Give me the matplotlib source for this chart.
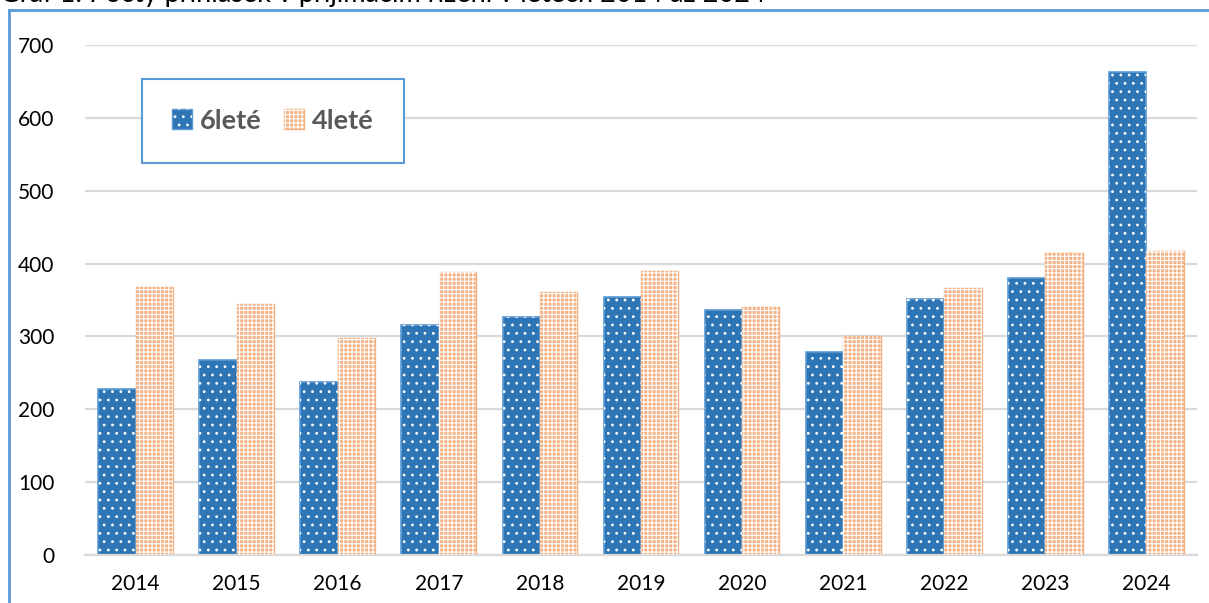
import numpy as np
import matplotlib.pyplot as plt
from matplotlib.patches import Patch
from matplotlib.lines import Line2D
from matplotlib.legend_handler import HandlerTuple

plt.rcParams['font.family'] = ['Lato', 'DejaVu Sans']
plt.rcParams['hatch.linewidth'] = 0.8

# data
years = ['2014', '2015', '2016', '2017', '2018', '2019',
         '2020', '2021', '2022', '2023', '2024']
six_year = [228, 267, 238, 316, 326, 354, 336, 279, 351, 380, 663]
four_year = [368, 344, 298, 389, 361, 390, 340, 300, 367, 415, 417]
series_names = ['6leté', '4leté']
title = 'Graf 1: Počty přihlášek v přijímacím řízení v letech 2014 až 2024'

BLUE = '#2E75B6'
BLUE_EDGE = '#5B9BD5'
ORANGE = '#F4B183'
W, H = 1209, 603

fig = plt.figure(figsize=(W / 100, H / 100), dpi=100)
ax = fig.add_axes([85 / W, 1 - 555 / H, (1197 - 85) / W, (555 - 45) / H])

x = np.arange(len(years))
w = 0.37

# blue bars: fill, then white dot hatch on top
ax.bar(x - w / 2, six_year, w, color=BLUE, edgecolor=BLUE_EDGE, linewidth=1.2, zorder=2)
ax.bar(x - w / 2, six_year, w, fill=False, edgecolor='white', hatch='..', linewidth=0, zorder=3)
# orange bars: fill, then fine white grid hatch
ax.bar(x + w / 2, four_year, w, color=ORANGE, edgecolor=ORANGE, linewidth=1, zorder=2)
ax.bar(x + w / 2, four_year, w, fill=False, edgecolor='white', hatch='++++', linewidth=0, zorder=3)

ax.set_xlim(-0.5, len(years) - 0.5)
ax.set_ylim(0, 700)
ax.set_yticks(range(0, 701, 100))
ax.set_xticks(x)
ax.set_xticklabels(years)
ax.tick_params(length=0, labelsize=15, labelcolor='black')
ax.tick_params(axis='y', pad=22)
ax.tick_params(axis='x', pad=14)
ax.grid(axis='y', color='#D9D9D9', linewidth=1.6, zorder=0)
for s in ['top', 'right', 'left']:
    ax.spines[s].set_visible(False)
ax.spines['bottom'].set_color('#D9D9D9')
ax.spines['bottom'].set_linewidth(1.6)

# legend
h6 = (Patch(facecolor=BLUE, edgecolor=BLUE_EDGE),
      Patch(fill=False, edgecolor='white', hatch='..', linewidth=0))
h4 = (Patch(facecolor=ORANGE, edgecolor=ORANGE),
      Patch(fill=False, edgecolor='white', hatch='++++', linewidth=0))
leg = ax.legend([h6, h4], series_names, ncol=2,
                handler_map={tuple: HandlerTuple(ndivide=1, pad=0)},
                loc='upper left', bbox_to_anchor=((142 - 85) / (1197 - 85), 1 - (79 - 45) / (555 - 45)),
                fancybox=False, framealpha=1, edgecolor=BLUE_EDGE,
                prop={'weight': 'bold', 'size': 19.5},
                handlelength=0.75, handleheight=0.75, handletextpad=0.3,
                columnspacing=0.8, borderpad=1.1, borderaxespad=0)
leg.get_frame().set_linewidth(1.5)
for t in leg.get_texts():
    t.set_color('#595959')

# outer frame (partly cut off) and title
fig.add_artist(Line2D([9 / W, 9 / W], [0, 1 - 10 / H], color=BLUE_EDGE, linewidth=2))
fig.add_artist(Line2D([9 / W, 1], [1 - 10 / H, 1 - 10 / H], color=BLUE_EDGE, linewidth=2))
fig.text(0.0, 1 - 2 / H, title, fontsize=19.5, va='baseline', ha='left')

fig.savefig('out.png', dpi=100)
